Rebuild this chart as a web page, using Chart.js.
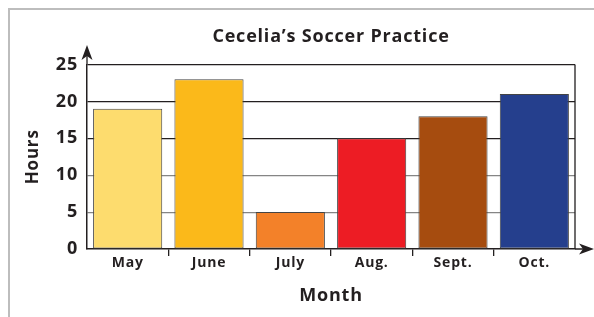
<!DOCTYPE html>
<html>
<head>
<meta charset="utf-8">
<script src="https://cdn.jsdelivr.net/npm/chart.js@4.4.0/dist/chart.umd.min.js"></script>
<style>
    html, body { margin: 0; padding: 0; background: #fff; }
    #wrap { position: relative; width: 594px; height: 317px; }
</style>
</head>
<body>
<div id="wrap"><canvas id="chart" width="594" height="317"></canvas></div>
<script>
// Data
const months = ['May', 'June', 'July', 'Aug.', 'Sept.', 'Oct.'];
const hours = [19, 23, 5, 15, 18, 21];
const yTicks = [0, 5, 10, 15, 20, 25];

// Bar fill colours, one per month
const barColors = ['#fddc6e', '#fbb91a', '#f38129', '#ed1c24', '#a64c0f', '#253f8d'];
const ink = '#231f20';
const FONT = "'Open Sans', 'Noto Sans', sans-serif";

// Extra drawing: frame, right border and axis arrows
const decorations = {
    id: 'decorations',
    beforeDraw(chart) {
        const c = chart.ctx;
        // the reference lettering is set a little loose
        c.letterSpacing = '0.8px';
        c.save();
        c.strokeStyle = '#bdbdbd';
        c.lineWidth = 2;
        c.beginPath();
        c.moveTo(9, 317);
        c.lineTo(9, 9);
        c.lineTo(594, 9);
        c.stroke();
        c.restore();
    },
    afterDraw(chart) {
        const c = chart.ctx;
        const a = chart.chartArea;
        c.save();
        c.strokeStyle = ink;
        c.fillStyle = ink;
        c.lineWidth = 1.3;
        c.beginPath();
        // right border
        c.moveTo(a.right, a.top);
        c.lineTo(a.right, a.bottom);
        // y axis extension
        c.moveTo(a.left, a.top);
        c.lineTo(a.left, 52);
        // x axis extension
        c.moveTo(a.right, a.bottom);
        c.lineTo(588, a.bottom);
        c.stroke();
        // arrow heads
        c.beginPath();
        c.moveTo(a.left, 45);
        c.lineTo(a.left + 5.5, 60);
        c.lineTo(a.left, 56);
        c.lineTo(a.left - 5.5, 60);
        c.closePath();
        c.fill();
        c.beginPath();
        c.moveTo(594, a.bottom);
        c.lineTo(579, a.bottom - 5.5);
        c.lineTo(583, a.bottom);
        c.lineTo(579, a.bottom + 5.5);
        c.closePath();
        c.fill();
        c.restore();
    }
};

new Chart(document.getElementById('chart'), {
    type: 'bar',
    data: {
        labels: months,
        datasets: [{
            data: hours,
            backgroundColor: barColors,
            borderColor: '#444',
            borderWidth: 1,
            borderSkipped: false,
            barPercentage: 0.85,
            categoryPercentage: 1
        }]
    },
    options: {
        responsive: false,
        animation: false,
        layout: { padding: { left: 0, right: 19, top: 0, bottom: 0 } },
        plugins: {
            legend: { display: false },
            tooltip: { enabled: false },
            title: {
                display: true,
                text: 'Cecelia\u2019s Soccer Practice',
                color: ink,
                fullSize: false,
                font: { family: FONT, size: 18, weight: 'bold' },
                padding: { top: 26, bottom: 17 }
            }
        },
        scales: {
            x: {
                afterFit: s => { s.height = 68; },
                grid: {
                    drawOnChartArea: false,
                    drawTicks: true,
                    tickLength: 7,
                    lineWidth: 1.3,
                    color: c => (c.type === 'tick' && c.index > 0) ? ink : 'rgba(0,0,0,0)'
                },
                border: { color: ink, width: 1.5 },
                ticks: {
                    color: ink,
                    padding: -1,
                    font: { family: FONT, size: 14, weight: 'bold' }
                },
                title: {
                    display: true,
                    text: 'Month',
                    color: ink,
                    font: { family: FONT, size: 18, weight: 'bold' },
                    padding: { top: 0, bottom: 10 }
                }
            },
            y: {
                min: 0,
                max: 25,
                afterFit: s => { s.width = 87; },
                afterBuildTicks: s => { s.ticks = yTicks.map(v => ({ value: v })); },
                grid: {
                    drawTicks: false,
                    lineWidth: 1.2,
                    color: c => {
                        const v = c.tick ? c.tick.value : 0;
                        if (v === 0) return 'rgba(0,0,0,0)';
                        return v >= 15 ? ink : '#858585';
                    }
                },
                border: { color: ink, width: 1.5 },
                ticks: {
                    color: ink,
                    padding: 9,
                    font: { family: FONT, size: 18, weight: 'bold' }
                },
                title: {
                    display: true,
                    text: 'Hours',
                    color: ink,
                    font: { family: FONT, size: 17, weight: 'bold' },
                    padding: { top: 23, bottom: 0 }
                }
            }
        }
    },
    plugins: [decorations]
});
</script>
</body>
</html>
